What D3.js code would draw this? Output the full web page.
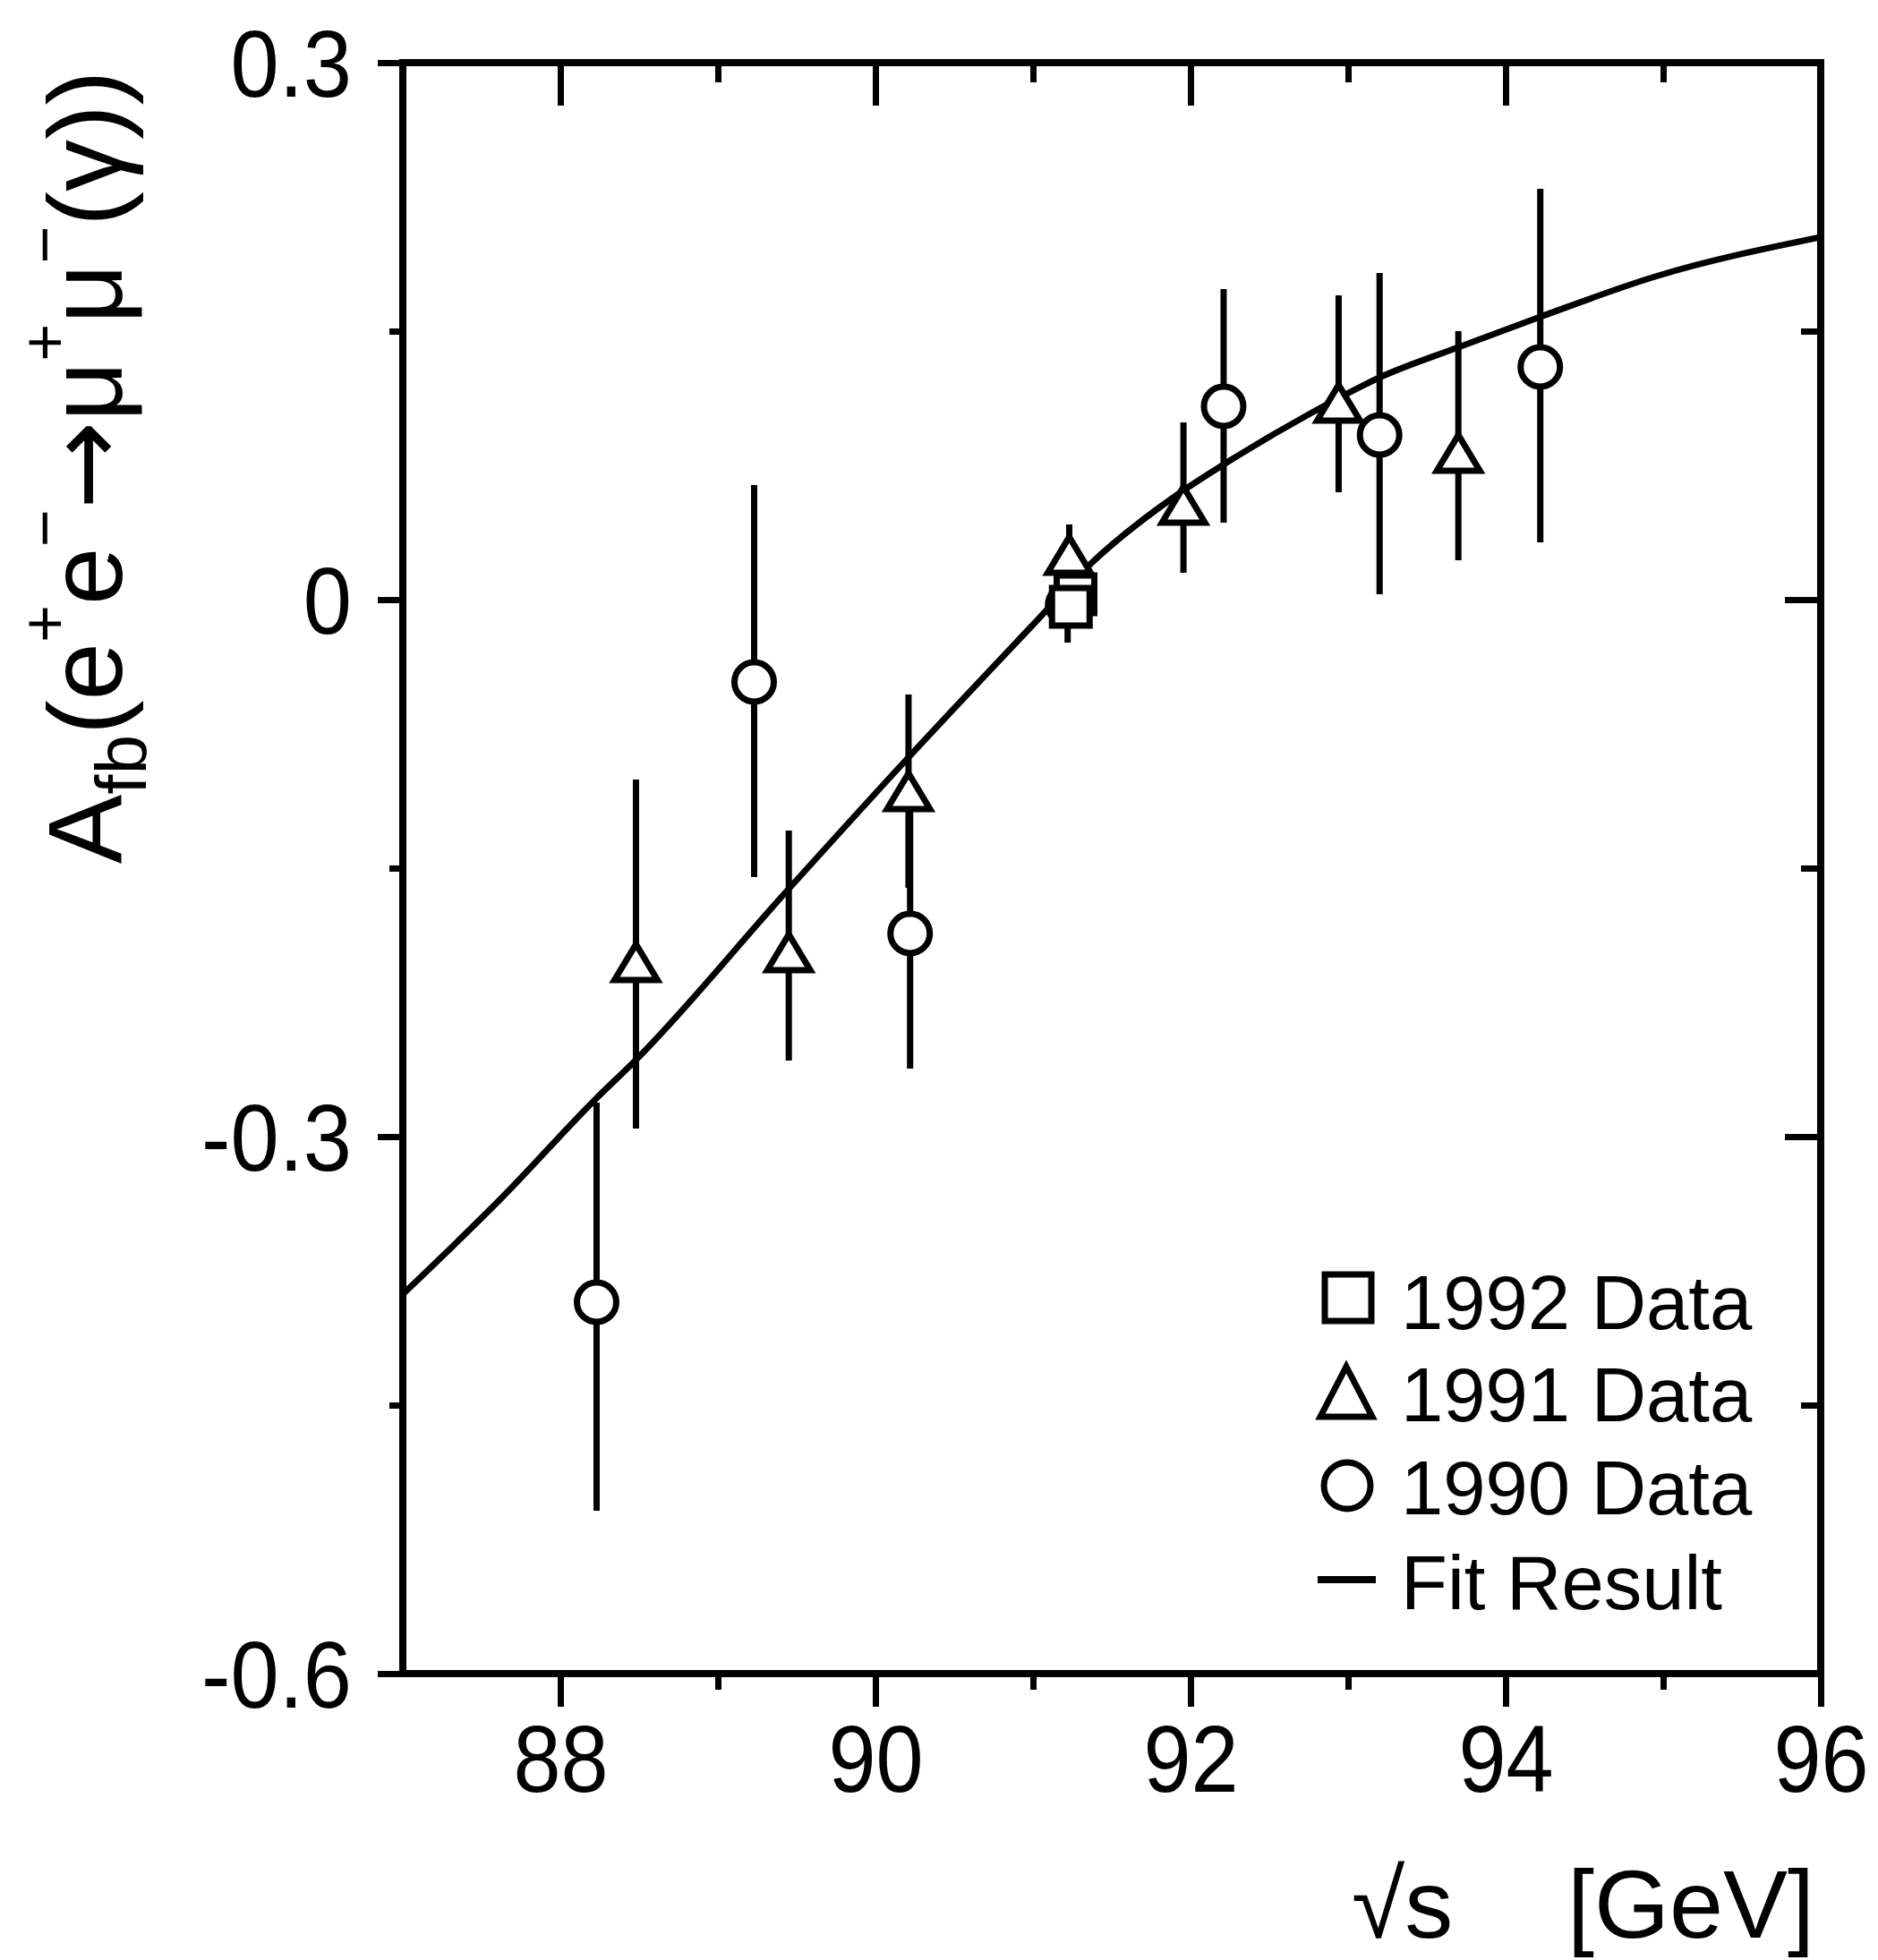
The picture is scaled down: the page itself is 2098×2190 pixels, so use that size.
<!DOCTYPE html>
<html><head><meta charset="utf-8">
<script src="https://cdn.jsdelivr.net/npm/d3@7"></script>
<style>html,body{margin:0;padding:0;background:#fff;} svg{display:block}</style>
</head><body>
<svg id="chart" width="2098" height="2190"></svg>
<script>
// ---- data ----
const xTicksMajor = [88, 90, 92, 94, 96];
const xTicksMinor = [89, 91, 93, 95];
const yTicksMajor = [0.3, 0, -0.3, -0.6];
const yTicksMinor = [0.15, -0.15, -0.45];
const yTickLabels = ["0.3", "0", "-0.3", "-0.6"];

const sqrtS1992 = [91.27, 91.24];
const afb1992 = [0.003, -0.004];
const hi1992 = [0.015, 0.008];
const lo1992 = [-0.009, -0.016];

const sqrtS1991 = [88.48, 89.45, 90.21, 91.23, 91.955, 92.94, 93.70];
const afb1991 = [-0.2025, -0.197, -0.107, 0.025, 0.053, 0.11, 0.082];
const hi1991 = [-0.1005, -0.129, -0.053, 0.042, 0.099, 0.17, 0.15];
const lo1991 = [-0.2955, -0.2575, -0.161, 0.006, 0.015, 0.06, 0.022];

const sqrtS1990 = [88.23, 89.23, 90.22, 91.22, 92.21, 93.20, 94.22];
const afb1990 = [-0.3925, -0.046, -0.1865, -0.003, 0.108, 0.092, 0.13];
const hi1990 = [-0.281, 0.064, -0.111, 0.015, 0.1735, 0.1825, 0.2295];
const lo1990 = [-0.509, -0.155, -0.262, -0.024, 0.043, 0.003, 0.032];

const fitSqrtS = [87.0, 87.63, 88.23, 88.47, 89.43, 90.19, 91.0, 91.36, 91.955, 92.21, 92.75, 93.21, 93.70, 94.22, 94.95, 96.0];
const fitAfb = [-0.388, -0.334, -0.2785, -0.258, -0.1635, -0.09, -0.014, 0.0195, 0.061, 0.0755, 0.1035, 0.1245, 0.141, 0.158, 0.1805, 0.2025];

const legendLabels = ["1992 Data", "1991 Data", "1990 Data", "Fit Result"];
const xLabelLeft = "\u221As";
const xLabelRight = "[GeV]";

// ---- drawing ----
const FONT = "'Liberation Sans', Arial, Helvetica, sans-serif";
const SW = 7;
const svg = d3.select("#chart");
svg.append("rect").attr("width", 2098).attr("height", 2190).attr("fill", "#fff");

const x = d3.scaleLinear().domain([87, 96]).range([450, 2034]);
const y = d3.scaleLinear().domain([-0.6, 0.3]).range([1870, 70]);

function styleAxis(g) {
  g.select(".domain").remove();
  g.selectAll("line").attr("stroke", "#000").attr("stroke-width", SW);
  g.selectAll("text").attr("fill", "#000").attr("font-family", FONT);
}

// bottom axis
svg.append("g").attr("transform", "translate(0,1870)")
  .call(d3.axisBottom(x).tickValues(xTicksMajor).tickSize(37).tickPadding(20).tickSizeOuter(0).tickFormat(d3.format("d")))
  .call(styleAxis)
  .call(g => g.selectAll("text").attr("font-size", 106).attr("transform", "scale(0.9,1)"));
svg.append("g").attr("transform", "translate(0,1870)")
  .call(d3.axisBottom(x).tickValues(xTicksMinor).tickSize(18).tickSizeOuter(0).tickFormat(""))
  .call(styleAxis);

// top axis (ticks inward)
svg.append("g").attr("transform", "translate(0,70)")
  .call(d3.axisBottom(x).tickValues(xTicksMajor).tickSize(48).tickSizeOuter(0).tickFormat(""))
  .call(styleAxis);
svg.append("g").attr("transform", "translate(0,70)")
  .call(d3.axisBottom(x).tickValues(xTicksMinor).tickSize(22).tickSizeOuter(0).tickFormat(""))
  .call(styleAxis);

// left axis
svg.append("g").attr("transform", "translate(450,0)")
  .call(d3.axisLeft(y).tickValues(yTicksMajor).tickSize(28).tickSizeOuter(0).tickFormat((d, i) => yTickLabels[i]))
  .call(styleAxis)
  .call(g => g.selectAll("text").attr("font-size", 106).attr("x", -62).attr("dy", "0.35em").attr("transform", "scale(0.92,1)"));
svg.append("g").attr("transform", "translate(450,0)")
  .call(d3.axisLeft(y).tickValues(yTicksMinor).tickSize(15).tickSizeOuter(0).tickFormat(""))
  .call(styleAxis);

// right axis (ticks inward)
svg.append("g").attr("transform", "translate(2034,0)")
  .call(d3.axisLeft(y).tickValues(yTicksMajor).tickSize(40).tickSizeOuter(0).tickFormat(""))
  .call(styleAxis);
svg.append("g").attr("transform", "translate(2034,0)")
  .call(d3.axisLeft(y).tickValues(yTicksMinor).tickSize(22).tickSizeOuter(0).tickFormat(""))
  .call(styleAxis);

// frame
svg.append("rect")
  .attr("x", x(87)).attr("y", y(0.3))
  .attr("width", x(96) - x(87)).attr("height", y(-0.6) - y(0.3))
  .attr("fill", "none").attr("stroke", "#000").attr("stroke-width", 8);

// fit curve
const fitData = fitSqrtS.map((s, i) => [s, fitAfb[i]]);
svg.append("path")
  .datum(fitData)
  .attr("fill", "none").attr("stroke", "#000").attr("stroke-width", 7)
  .attr("d", d3.line().x(d => x(d[0])).y(d => y(d[1])).curve(d3.curveMonotoneX));

function series(s, a, hi, lo) { return s.map((v, i) => ({ s: v, a: a[i], hi: hi[i], lo: lo[i] })); }
const d1990 = series(sqrtS1990, afb1990, hi1990, lo1990);
const d1991 = series(sqrtS1991, afb1991, hi1991, lo1991);
const d1992 = series(sqrtS1992, afb1992, hi1992, lo1992);

// error bars
const bars = svg.append("g").attr("stroke", "#000").attr("stroke-width", 7);
[d1990, d1991, d1992].forEach(ds => {
  bars.selectAll(null).data(ds).enter().append("line")
    .attr("x1", d => x(d.s)).attr("x2", d => x(d.s))
    .attr("y1", d => y(d.hi)).attr("y2", d => y(d.lo));
});

function triPath(w, h) { return `M0,${-h / 2}L${w / 2},${h / 2}L${-w / 2},${h / 2}Z`; }

const marks = svg.append("g").attr("stroke", "#000").attr("stroke-width", 7).attr("fill", "#fff");
marks.selectAll(null).data(d1990).enter().append("circle")
  .attr("cx", d => x(d.s)).attr("cy", d => y(d.a)).attr("r", 22);
marks.selectAll(null).data(d1991).enter().append("path")
  .attr("transform", d => `translate(${x(d.s)},${y(d.a)})`).attr("d", triPath(48, 40));
marks.selectAll(null).data(d1992).enter().append("rect")
  .attr("x", d => x(d.s) - 21).attr("y", d => y(d.a) - 21).attr("width", 42).attr("height", 42);

// legend
const lg = svg.append("g");
const rowsY = [1485, 1588, 1692, 1798];
lg.append("rect").attr("x", 1480).attr("y", 1424).attr("width", 52).attr("height", 52)
  .attr("fill", "#fff").attr("stroke", "#000").attr("stroke-width", 7);
lg.append("path").attr("transform", "translate(1504,1555)").attr("d", triPath(58, 56))
  .attr("fill", "#fff").attr("stroke", "#000").attr("stroke-width", 7);
lg.append("circle").attr("cx", 1505).attr("cy", 1660).attr("r", 26)
  .attr("fill", "#fff").attr("stroke", "#000").attr("stroke-width", 7);
lg.append("line").attr("x1", 1472).attr("x2", 1537).attr("y1", 1765).attr("y2", 1765)
  .attr("stroke", "#000").attr("stroke-width", 8);
lg.selectAll("text").data(legendLabels).enter().append("text")
  .attr("x", 1565).attr("y", (d, i) => rowsY[i])
  .attr("font-family", FONT).attr("font-size", 85).attr("fill", "#000")
  .text(d => d);

// x axis label
svg.append("text").attr("x", 1510).attr("y", 2165).attr("font-family", FONT).attr("font-size", 108)
  .attr("text-anchor", "start").text(xLabelLeft);
svg.append("text").attr("x", 2027).attr("y", 2165).attr("font-family", FONT).attr("font-size", 108)
  .attr("text-anchor", "end").text(xLabelRight);

// y axis label
const yl = svg.append("text").attr("transform", "translate(136,522) rotate(-90)")
  .attr("font-family", FONT).attr("font-size", 116).attr("text-anchor", "middle").attr("fill", "#000");
const parts = [
  ["A", 116, 0, FONT], ["fb", 80, 27, FONT], ["(e", 116, -27, FONT], ["+", 72, -62, FONT], ["e", 116, 62, FONT],
  ["\u2212", 72, -62, FONT], ["\u2192", 118, 62, "'DejaVu Sans', sans-serif"], ["\u03BC", 116, 0, FONT],
  ["+", 72, -62, FONT], ["\u03BC", 116, 62, FONT], ["\u2212", 72, -62, FONT], ["(\u03B3))", 116, 62, FONT]
];
parts.forEach(p => yl.append("tspan").attr("font-size", p[1]).attr("dy", p[2]).attr("font-family", p[3]).text(p[0]));
</script>
</body></html>
